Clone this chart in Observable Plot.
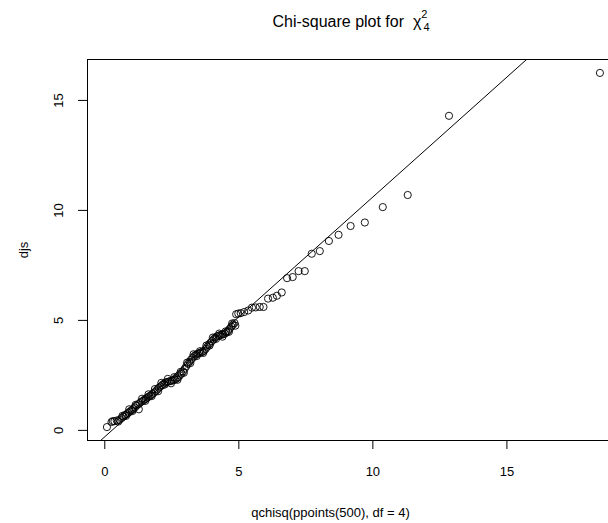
<!DOCTYPE html>
<html>
<head>
<meta charset="utf-8">
<script src="https://cdn.jsdelivr.net/npm/d3@7"></script>
<script src="https://cdn.jsdelivr.net/npm/@observablehq/plot@0.6"></script>
<style>
  html, body { margin: 0; padding: 0; overflow: hidden; background: white; }
</style>
</head>
<body>
<div id="chart"></div>
<script>
const qchisqVals = [
  0.08, 0.25, 0.36, 0.45, 0.55, 0.63, 0.70, 0.76, 0.82, 0.88,
  0.94, 1.00, 1.06, 1.12, 1.18, 1.24, 1.30, 1.36, 1.42, 1.48,
  1.54, 1.60, 1.66, 1.72, 1.78, 1.84, 1.90, 1.96, 2.02, 2.08,
  2.14, 2.20, 2.26, 2.32, 2.38, 2.44, 2.50, 2.56, 2.62, 2.68,
  2.74, 2.80, 2.86, 2.92, 2.98, 3.04, 3.10, 3.16, 3.22, 3.28,
  3.34, 3.40, 3.46, 3.52, 3.58, 3.64, 3.70, 3.76, 3.82, 3.88,
  3.94, 4.00, 4.06, 4.12, 4.18, 4.24, 4.30, 4.36, 4.42, 4.48,
  4.54, 4.60, 4.66, 4.72, 4.78, 4.84, 4.90, 4.98, 5.07, 5.20,
  5.35, 5.49, 5.63, 5.78, 5.92, 6.09, 6.27, 6.42, 6.60, 6.80,
  7.01, 7.23, 7.46, 7.72, 8.02, 8.36, 8.72, 9.17, 9.70, 10.37,
  11.30, 12.84, 18.47,
  // second row of the dense band
  0.30, 0.50, 0.66, 0.79, 0.91, 1.03, 1.15, 1.27, 1.39, 1.51,
  1.63, 1.75, 1.87, 1.99, 2.11, 2.23, 2.35, 2.47, 2.59, 2.71,
  2.83, 2.95, 3.07, 3.19, 3.31, 3.43, 3.55, 3.67, 3.79, 3.91,
  4.03, 4.15, 4.27, 4.39, 4.51, 4.63, 4.75, 4.87
];
const djs = [
  0.15, 0.38, 0.42, 0.45, 0.48, 0.56, 0.63, 0.70, 0.74, 0.80,
  0.86, 0.92, 0.98, 1.04, 1.12, 1.18, 1.24, 1.30, 1.34, 1.40,
  1.44, 1.50, 1.55, 1.60, 1.66, 1.72, 1.78, 1.86, 1.94, 2.00,
  2.06, 2.12, 2.17, 2.20, 2.22, 2.24, 2.26, 2.28, 2.31, 2.36,
  2.42, 2.50, 2.58, 2.68, 2.80, 2.92, 3.02, 3.12, 3.22, 3.30,
  3.38, 3.44, 3.48, 3.51, 3.54, 3.57, 3.62, 3.70, 3.80, 3.90,
  3.98, 4.06, 4.14, 4.22, 4.27, 4.30, 4.33, 4.35, 4.37, 4.40,
  4.45, 4.52, 4.62, 4.72, 4.80, 4.88, 5.28, 5.31, 5.33, 5.38,
  5.45, 5.58, 5.59, 5.61, 5.61, 5.99, 6.03, 6.12, 6.27, 6.92,
  6.97, 7.24, 7.24, 8.03, 8.15, 8.61, 8.89, 9.29, 9.45, 10.15,
  10.70, 14.30, 16.25,
  0.42, 0.40, 0.66, 0.66, 0.96, 0.88, 1.16, 0.96, 1.44, 1.34,
  1.64, 1.56, 1.88, 1.78, 2.16, 2.08, 2.34, 2.14, 2.42, 2.30,
  2.66, 2.62, 3.08, 3.06, 3.46, 3.38, 3.60, 3.52, 3.86, 3.86,
  4.22, 4.16, 4.40, 4.26, 4.50, 4.48, 4.86, 4.76
];
// reference line y = intercept + slope * x
const lineIntercept = -0.29;
const lineSlope = 1.09;

const xTicks = [0, 5, 10, 15];
const yTicks = [0, 5, 10, 15];
const xLabel = "qchisq(ppoints(500), df = 4)";
const yLabel = "djs";
const titleMain = "Chi-square plot for  \u03C7";
const titleSup = "2";
const titleSub = "4";

const points = qchisqVals.map((x, i) => ({x, y: djs[i]}));
const xDomain = [-0.645, 19.2];
const yDomain = [-0.46, 16.86];
const refLine = xDomain.map(x => ({x, y: lineIntercept + lineSlope * x}));

const font = "'Liberation Sans', Arial, Helvetica, sans-serif";

const chart = Plot.plot({
  width: 620,
  height: 523,
  marginLeft: 87,
  marginRight: 1,
  marginTop: 59,
  marginBottom: 83,
  style: {fontFamily: font, fontSize: "13px", maxWidth: "none", background: "white", color: "black", overflow: "visible"},
  x: {domain: xDomain, axis: null},
  y: {domain: yDomain, axis: null},
  marks: [
    Plot.line(refLine, {x: "x", y: "y", stroke: "black", strokeWidth: 1, clip: true}),
    Plot.dot(points, {x: "x", y: "y", r: 3.6, stroke: "black", strokeWidth: 0.9, fill: "none"}),
    Plot.frame({stroke: "black", strokeWidth: 1}),
    Plot.axisX({ticks: xTicks, tickSize: 9, tickPadding: 17, label: null, anchor: "bottom", fontSize: 13}),
    Plot.axisY({ticks: yTicks, tickSize: 9, tickFormat: () => "", label: null, anchor: "left"}),
    Plot.text(yTicks, {y: d => d, text: d => String(d), frameAnchor: "left", dx: -29, rotate: -90, textAnchor: "middle", lineAnchor: "middle", fontSize: 13}),
    Plot.text([xLabel], {frameAnchor: "bottom", dy: 72, dx: -23, textAnchor: "middle", lineAnchor: "middle", fontSize: 13}),
    Plot.text([yLabel], {frameAnchor: "left", dx: -64, rotate: -90, textAnchor: "middle", lineAnchor: "middle", fontSize: 13})
  ]
});

const svg = d3.select(chart);
const t = svg.append("text")
  .attr("x", 351)
  .attr("y", 27)
  .attr("text-anchor", "middle")
  .attr("font-size", 16)
  .attr("font-family", font)
  .attr("fill", "black")
  .style("white-space", "pre");
t.append("tspan").text(titleMain);
t.append("tspan").attr("dy", -9).attr("font-size", 11).text(titleSup);
t.append("tspan").attr("dx", -4).attr("dy", 13).attr("font-size", 11).text(titleSub);

document.getElementById("chart").appendChild(chart);
</script>
</body>
</html>
